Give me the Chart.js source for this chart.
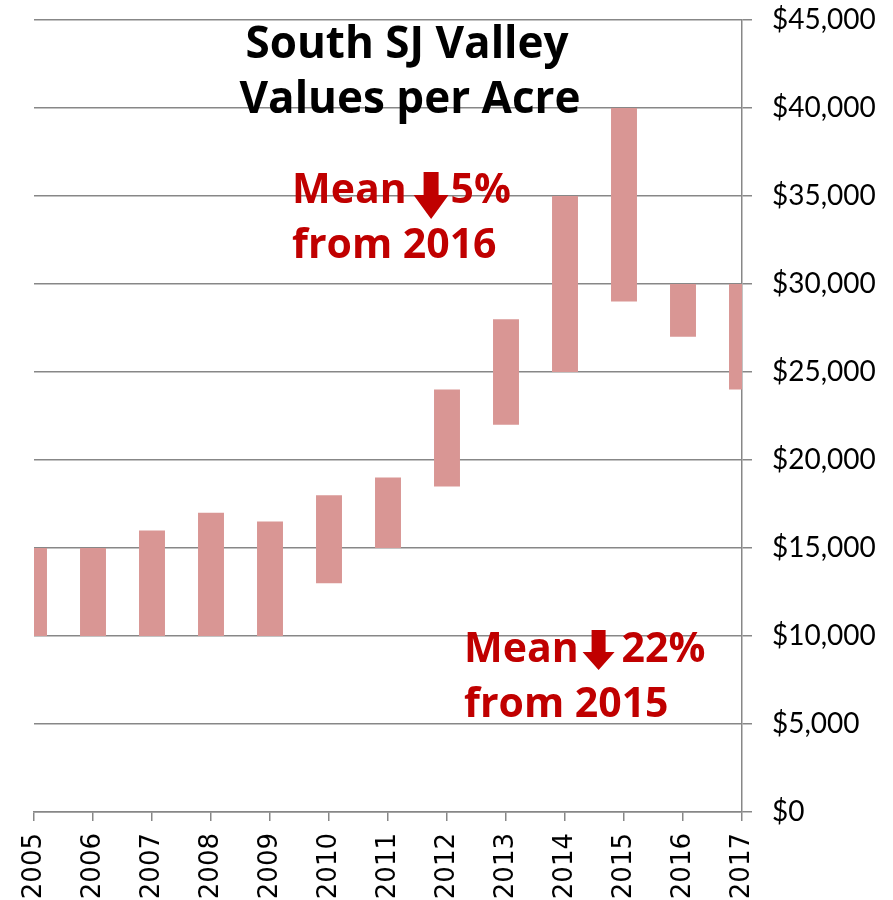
<!DOCTYPE html>
<html>
<head>
<meta charset="utf-8">
<script src="https://cdn.jsdelivr.net/npm/chart.js@4"></script>
<style>
  html, body { margin: 0; padding: 0; background: #ffffff; }
  #wrap { width: 893px; height: 900px; }
</style>
</head>
<body>
<div id="wrap"><canvas id="c" width="893" height="900"></canvas></div>
<script>
// ---- data ----
const years = ['2005','2006','2007','2008','2009','2010','2011','2012','2013','2014','2015','2016','2017'];
const lowValues  = [10000,10000,10000,10000,10000,13000,15000,18500,22000,25000,29000,27000,24000];
const highValues = [15000,15000,16000,17000,16500,18000,19000,24000,28000,35000,40000,30000,30000];
const yMin = 0, yMax = 45000, yStep = 5000;
const titleLines = ['South SJ Valley', 'Values per Acre'];
const note1 = { word: 'Mean', pct: '5%', from: 'from 2016' };
const note2 = { word: 'Mean', pct: '22%', from: 'from 2015' };

const ranges = lowValues.map((v, i) => [v, highValues[i]]);
const axisGrey = '#878787';
const noteRed = '#C00000';
const boldFont = 'Open Sans';

function drawArrow(ctx, left, top, height, headW, shaftW, headH) {
  const cx = left + headW / 2;
  ctx.beginPath();
  ctx.moveTo(cx - shaftW / 2, top);
  ctx.lineTo(cx + shaftW / 2, top);
  ctx.lineTo(cx + shaftW / 2, top + height - headH);
  ctx.lineTo(left + headW, top + height - headH);
  ctx.lineTo(cx, top + height);
  ctx.lineTo(left, top + height - headH);
  ctx.lineTo(cx - shaftW / 2, top + height - headH);
  ctx.closePath();
  ctx.fill();
}

function drawNote(ctx, note, x, base1, base2, arrow) {
  ctx.save();
  ctx.fillStyle = noteRed;
  ctx.font = 'bold 41px "' + boldFont + '"';
  ctx.textAlign = 'left';
  ctx.textBaseline = 'alphabetic';
  ctx.fillText(note.word, x, base1);
  const wWord = ctx.measureText(note.word).width;
  const aLeft = x + wWord + arrow.gapBefore;
  drawArrow(ctx, aLeft, arrow.top, arrow.height, arrow.headW, arrow.shaftW, arrow.headH);
  ctx.fillText(note.pct, aLeft + arrow.headW + arrow.gapAfter, base1);
  ctx.fillText(note.from, x, base2);
  ctx.restore();
}

const overlayPlugin = {
  id: 'overlay',
  beforeDraw(chart) {
    const ctx = chart.ctx;
    ctx.save();
    ctx.fillStyle = '#ffffff';
    ctx.fillRect(0, 0, chart.width, chart.height);
    ctx.restore();
  },
  afterDraw(chart) {
    const ctx = chart.ctx;
    ctx.save();
    ctx.fillStyle = '#000000';
    ctx.font = 'bold 44px "' + boldFont + '"';
    ctx.textAlign = 'center';
    ctx.textBaseline = 'alphabetic';
    ctx.fillText(titleLines[0], 407, 58);
    ctx.fillText(titleLines[1], 410, 113);
    ctx.restore();
    drawNote(ctx, note1, 292, 203, 258, { gapBefore: 7, gapAfter: 2, top: 172, height: 47, headW: 35, shaftW: 15, headH: 24 });
    drawNote(ctx, note2, 464, 662, 717, { gapBefore: 4, gapAfter: 7, top: 630, height: 40, headW: 32, shaftW: 14, headH: 18 });
  }
};

new Chart(document.getElementById('c'), {
  type: 'bar',
  data: {
    labels: years,
    datasets: [{
      data: ranges,
      backgroundColor: '#D99694',
      borderWidth: 0,
      barPercentage: 0.44,
      categoryPercentage: 1.0,
      clip: 0
    }]
  },
  options: {
    responsive: false,
    animation: false,
    layout: { padding: { left: 34, top: 20, right: 0, bottom: 0 } },
    plugins: {
      legend: { display: false },
      tooltip: { enabled: false },
      title: { display: false }
    },
    scales: {
      x: {
        type: 'category',
        offset: false,
        grid: {
          offset: false,
          drawOnChartArea: false,
          drawTicks: true,
          tickLength: 9,
          color: axisGrey,
          lineWidth: 1.5
        },
        border: { display: true, color: axisGrey, width: 1.5 },
        ticks: {
          minRotation: 90,
          maxRotation: 90,
          autoSkip: false,
          padding: 12,
          color: '#000000',
          font: { family: 'DejaVu Sans', size: 26 }
        },
        afterFit(scale) { scale.height = 88; }
      },
      y: {
        position: 'right',
        min: yMin,
        max: yMax,
        grid: {
          color: axisGrey,
          lineWidth: 1.5,
          drawTicks: true,
          tickLength: 10
        },
        border: { display: true, color: axisGrey, width: 1.5 },
        ticks: {
          stepSize: yStep,
          padding: 20,
          color: '#000000',
          font: { family: 'Lato', size: 28 },
          callback: (v) => '$' + Number(v).toLocaleString('en-US')
        },
        afterFit(scale) {
          scale.width = 151;
          scale.paddingTop = 0;
          scale.paddingBottom = 0;
        }
      }
    }
  },
  plugins: [overlayPlugin]
});
</script>
</body>
</html>
